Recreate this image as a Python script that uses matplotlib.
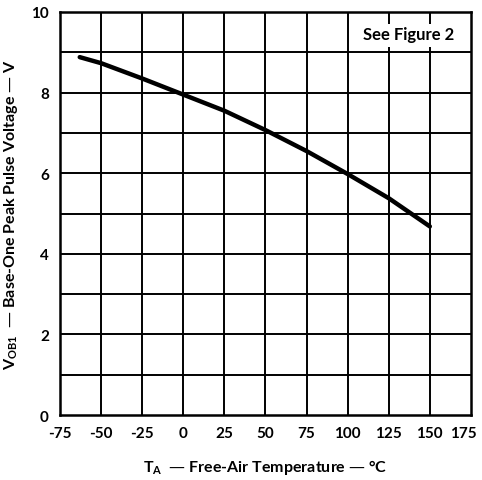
import matplotlib
matplotlib.use("Agg")
import matplotlib.pyplot as plt
import matplotlib.transforms as mtransforms
from matplotlib.patches import Rectangle

# Base-one peak pulse voltage vs free-air temperature
temp_c = [-63, -50, -25, 0, 25, 50, 75, 100, 125, 150]
v_ob1 = [8.88, 8.73, 8.35, 7.95, 7.55, 7.07, 6.55, 5.98, 5.38, 4.68]

x_ticks = [-75, -50, -25, 0, 25, 50, 75, 100, 125, 150, 175]
y_ticks = [0, 2, 4, 6, 8, 10]
y_grid = [1, 2, 3, 4, 5, 6, 7, 8, 9]

plt.rcParams["font.family"] = ["Lato", "DejaVu Sans"]
plt.rcParams["font.weight"] = "bold"

fig = plt.figure(figsize=(4.82, 4.81), dpi=100)
ax = fig.add_axes([0.1245, 0.135, 0.8525, 0.838])

for x in x_ticks[1:-1]:
    ax.axvline(x, color="black", lw=1.4, zorder=1)
for y in y_grid:
    ax.axhline(y, color="black", lw=1.4, zorder=1)

ax.plot(temp_c, v_ob1, color="black", lw=3.2, solid_capstyle="round", zorder=3)

# note box covering grid
ax.add_patch(Rectangle((102, 9.13), 70, 0.57, facecolor="white", edgecolor="none", zorder=2))
ax.text(137, 9.45, "See Figure 2", ha="center", va="center", fontsize=12,
        fontweight="bold", zorder=4)

ax.set_xlim(-75, 175)
ax.set_ylim(0, 10)
ax.set_xticks(x_ticks)
ax.set_yticks(y_ticks)
ax.set_xticklabels([str(v) for v in x_ticks])
ax.tick_params(length=0, labelsize=11, pad=8)
for sp in ax.spines.values():
    sp.set_linewidth(1.8)

# last x label sits a bit left, as in the original sheet
last = ax.get_xticklabels()[-1]
last.set_transform(last.get_transform() + mtransforms.ScaledTranslation(-0.08, 0, fig.dpi_scale_trans))

ax.set_xlabel(r"T$_{\mathregular{A}}$  — Free-Air Temperature — °C", fontsize=11.5,
              fontweight="bold", labelpad=12)
ax.set_ylabel(r"V$_{\mathregular{OB1}}$  — Base-One Peak Pulse Voltage — V", fontsize=11.5,
              fontweight="bold", labelpad=8)

fig.savefig("out.png", dpi=100)
